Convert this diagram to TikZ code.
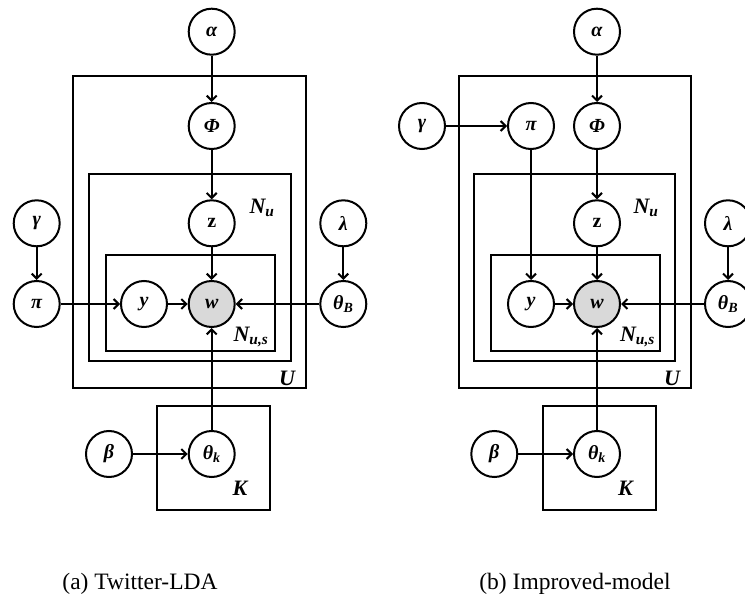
\documentclass[tikz,border=0pt]{standalone}
\usepackage{fontspec}
\setmainfont{Liberation Serif}
\usetikzlibrary{arrows.meta}
\tikzset{
  var/.style={circle,draw,line width=2pt,minimum size=46pt,inner sep=0pt,font=\fontsize{20}{22}\selectfont\bfseries\itshape},
  obs/.style={var,fill=black!15},
  plate/.style={draw,line width=2pt},
  platelab/.style={inner sep=0pt,font=\fontsize{22}{24}\selectfont\bfseries\itshape},
  edge/.style={line width=2pt,-{Straight Barb[length=5pt,width=10pt,line width=2pt]}},
  captiontext/.style={inner sep=0pt,font=\fontsize{23.5}{26}\selectfont}
}
\begin{document}
\begin{tikzpicture}[x=1pt,y=-1pt]
\useasboundingbox (0,0) rectangle (745,599);
\clip (0,0) rectangle (745,599);
% ---------------- (a) Twitter-LDA ----------------
\draw[plate] (73.3,76) rectangle (306,388.3);
\draw[plate] (89,174.3) rectangle (290.7,361);
\draw[plate] (105.7,255) rectangle (274.7,351);
\draw[plate] (157.3,406) rectangle (270,510);
\node[var] (a-alpha) at (211.7,31.7) {α};
\node[var] (a-phi) at (211.7,126) {Φ};
\node[var] (a-z) at (211.7,223.3) {\upshape z};
\node[var] (a-gamma) at (36.7,223.3) {γ};
\node[var] (a-lambda) at (343.3,223.3) {λ};
\node[var] (a-pi) at (36.7,304) {π};
\node[var] (a-y) at (144,304) {y};
\node[obs] (a-w) at (211.7,304) {w};
\node[var] (a-thetaB) at (343.3,304) {θ\textsubscript{B}};
\node[var] (a-thetak) at (211.7,454) {θ\textsubscript{k}};
\node[var] (a-beta) at (109,454) {β};
\node[platelab] (a-Nu) at (262,208) {N\textsubscript{u}};
\node[platelab] (a-Nus) at (251,337) {N\textsubscript{u,s}};
\node[platelab] (a-U) at (287,378) {U};
\node[platelab] (a-K) at (240,488) {K};
\draw[edge] (a-alpha) -- (a-phi);
\draw[edge] (a-phi) -- (a-z);
\draw[edge] (a-z) -- (a-w);
\draw[edge] (a-gamma) -- (a-pi);
\draw[edge] (a-lambda) -- (a-thetaB);
\draw[edge] (a-pi) -- (a-y);
\draw[edge] (a-y) -- (a-w);
\draw[edge] (a-thetaB) -- (a-w);
\draw[edge] (a-thetak) -- (a-w);
\draw[edge] (a-beta) -- (a-thetak);
\node[captiontext] (a-cap) at (140,583.5) {(a) Twitter-LDA};
% ---------------- (b) Improved-model ----------------
\draw[plate] (459.3,76) rectangle (691.3,388.3);
\draw[plate] (474.3,174.3) rectangle (675.3,361);
\draw[plate] (491,255) rectangle (660,351);
\draw[plate] (542.7,406) rectangle (656,510);
\node[var] (b-alpha) at (597,31.7) {α};
\node[var] (b-phi) at (597,126) {Φ};
\node[var] (b-gamma) at (422,126) {γ};
\node[var] (b-pi) at (531,126) {π};
\node[var] (b-z) at (597,223.3) {\upshape z};
\node[var] (b-lambda) at (728,223.3) {λ};
\node[var] (b-y) at (531,304) {y};
\node[obs] (b-w) at (597,304) {w};
\node[var] (b-thetaB) at (728,304) {θ\textsubscript{B}};
\node[var] (b-thetak) at (597,454) {θ\textsubscript{k}};
\node[var] (b-beta) at (494.3,454) {β};
\node[platelab] (b-Nu) at (646,208) {N\textsubscript{u}};
\node[platelab] (b-Nus) at (637.5,337) {N\textsubscript{u,s}};
\node[platelab] (b-U) at (672,378) {U};
\node[platelab] (b-K) at (625.5,488) {K};
\draw[edge] (b-alpha) -- (b-phi);
\draw[edge] (b-phi) -- (b-z);
\draw[edge] (b-z) -- (b-w);
\draw[edge] (b-gamma) -- (b-pi);
\draw[edge] (b-pi) -- (b-y);
\draw[edge] (b-y) -- (b-w);
\draw[edge] (b-lambda) -- (b-thetaB);
\draw[edge] (b-thetaB) -- (b-w);
\draw[edge] (b-thetak) -- (b-w);
\draw[edge] (b-beta) -- (b-thetak);
\node[captiontext] (b-cap) at (575,583.5) {(b) Improved-model};
\end{tikzpicture}
\end{document}
